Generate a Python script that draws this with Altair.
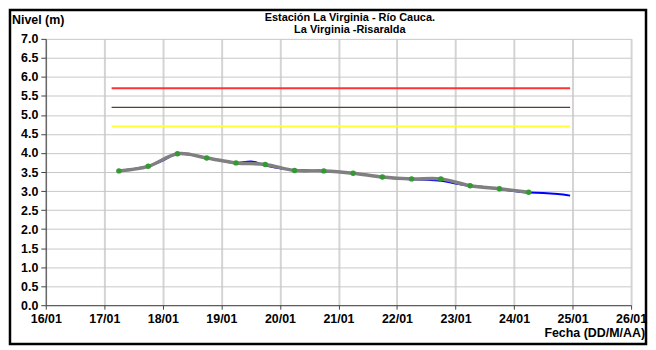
import altair as alt
import pandas as pd

# Green markers (06:00 and 18:00 readings)
pt_times = ["2020-01-17T06:00:00Z", "2020-01-17T18:00:00Z", "2020-01-18T06:00:00Z", "2020-01-18T18:00:00Z",
            "2020-01-19T06:00:00Z", "2020-01-19T18:00:00Z", "2020-01-20T06:00:00Z", "2020-01-20T18:00:00Z",
            "2020-01-21T06:00:00Z", "2020-01-21T18:00:00Z", "2020-01-22T06:00:00Z", "2020-01-22T18:00:00Z",
            "2020-01-23T06:00:00Z", "2020-01-23T18:00:00Z", "2020-01-24T06:00:00Z"]
pt_values = [3.53, 3.65, 3.98, 3.87, 3.74, 3.70, 3.54, 3.53, 3.47, 3.37, 3.32, 3.32, 3.14, 3.06, 2.97]

# Blue (continuous record)
bl_times = ["2020-01-17T06:00:00Z", "2020-01-17T12:00:00Z", "2020-01-17T18:00:00Z", "2020-01-18T00:00:00Z",
            "2020-01-18T06:00:00Z", "2020-01-18T12:00:00Z", "2020-01-18T18:00:00Z", "2020-01-19T00:00:00Z",
            "2020-01-19T06:00:00Z", "2020-01-19T12:00:00Z", "2020-01-19T18:00:00Z", "2020-01-20T00:00:00Z",
            "2020-01-20T06:00:00Z", "2020-01-20T12:00:00Z", "2020-01-20T18:00:00Z", "2020-01-21T00:00:00Z",
            "2020-01-21T06:00:00Z", "2020-01-21T12:00:00Z", "2020-01-21T18:00:00Z", "2020-01-22T00:00:00Z",
            "2020-01-22T06:00:00Z", "2020-01-22T12:00:00Z", "2020-01-22T18:00:00Z", "2020-01-23T00:00:00Z",
            "2020-01-23T06:00:00Z", "2020-01-23T12:00:00Z", "2020-01-23T18:00:00Z", "2020-01-24T00:00:00Z",
            "2020-01-24T06:00:00Z", "2020-01-24T12:00:00Z", "2020-01-24T18:00:00Z", "2020-01-24T23:00:00Z"]
bl_values = [3.53, 3.58, 3.65, 3.80, 3.98, 3.95, 3.87, 3.80, 3.74, 3.78, 3.67, 3.60, 3.55, 3.54, 3.52, 3.50,
             3.47, 3.42, 3.36, 3.33, 3.31, 3.30, 3.27, 3.20, 3.14, 3.10, 3.05, 3.00, 2.96, 2.95, 2.92, 2.88]

# Alert thresholds
th_levels = [5.7, 5.2, 4.7]
th_colors = ["#ff3333", "#5a4030", "#ffff33"]
th_widths = [2, 1.3, 2]
th_start = "2020-01-17T03:00:00Z"
th_end = "2020-01-24T23:00:00Z"

title_lines = ["Estación La Virginia  - Río Cauca.", "La Virginia -Risaralda"]
y_title = "Nivel (m)"
x_title = "Fecha (DD/M/AA)"

FONT = "Arial"
W, H = 589, 268

pts = pd.DataFrame({"t": pt_times, "v": pt_values})
blue = pd.DataFrame({"t": bl_times, "v": bl_values})
th = pd.DataFrame({"t": [th_start] * 3, "t2": [th_end] * 3, "v": th_levels, "c": th_colors, "w": th_widths})

xscale = alt.Scale(type="utc", domain=["2020-01-16T00:00:00Z", "2020-01-26T00:00:00Z"], nice=False)
yscale = alt.Scale(domain=[0, 7], nice=False)
tick_vals = [alt.DateTime(year=2020, month=1, date=d, utc=True) for d in range(16, 27)]

xax = alt.Axis(values=tick_vals, format="%d/%m", title=None, grid=True, gridColor="#d4d4d4", gridWidth=2,
               labelFont=FONT, labelFontSize=12.5, labelFontWeight="bold", labelColor="black",
               domainColor="#444444", tickColor="#444444", tickSize=4, labelPadding=3, labelFlush=False)
yax = alt.Axis(values=[i * 0.5 for i in range(15)], format=".1f", title=None, grid=True, gridColor="#c8c8c8",
               gridWidth=1, labelFont=FONT, labelFontSize=12.5, labelFontWeight="bold", labelColor="black",
               domainColor="#444444", tickColor="#444444", tickSize=5, labelPadding=3)

base_x = alt.X("t:T", scale=xscale, axis=xax)
base_y = alt.Y("v:Q", scale=yscale, axis=yax)

rules = alt.Chart(th).mark_rule().encode(
    x=alt.X("t:T", scale=xscale, axis=xax), x2="t2:T", y=alt.Y("v:Q", scale=yscale, axis=yax),
    color=alt.Color("c:N", scale=None), strokeWidth=alt.StrokeWidth("w:Q", scale=None))

blue_line = alt.Chart(blue).mark_line(color="#0000ff", strokeWidth=2, interpolate="monotone").encode(
    x=base_x, y=base_y)
gray_line = alt.Chart(pts).mark_line(color="#808080", strokeWidth=3.5, interpolate="cardinal").encode(
    x=base_x, y=base_y)
dots = alt.Chart(pts).mark_circle(color="#339933", size=30, opacity=1).encode(x=base_x, y=base_y)

title_df = pd.DataFrame({"txt": title_lines, "yy": [-21, -9]})
title = alt.Chart(title_df).mark_text(font=FONT, fontSize=11, fontWeight="bold", color="black",
                                      align="center", baseline="middle").encode(
    x=alt.value(306), y=alt.Y("yy:Q", scale=None), text="txt:N")

ytitle = alt.Chart(pd.DataFrame({"txt": [y_title]})).mark_text(
    font=FONT, fontSize=12.5, fontWeight="bold", color="black", align="left", baseline="middle").encode(
    x=alt.value(-34), y=alt.value(-19), text="txt:N")
xtitle = alt.Chart(pd.DataFrame({"txt": [x_title]})).mark_text(
    font=FONT, fontSize=12.5, fontWeight="bold", color="black", align="right", baseline="middle").encode(
    x=alt.value(603), y=alt.value(296), text="txt:N")

border = alt.Chart(pd.DataFrame({"a": [0]})).mark_rect(fill=None, stroke="black", strokeWidth=2.5).encode(
    x=alt.value(-36), x2=alt.value(604), y=alt.value(-29), y2=alt.value(307))

chart = alt.layer(rules, blue_line, gray_line, dots, title, ytitle, xtitle, border).properties(
    width=W, height=H,
    autosize=alt.AutoSizeParams(type="none"),
    padding={"left": 38, "top": 30, "right": 17, "bottom": 40},
    background="white",
).configure_view(stroke=None)

chart.save("out.html", embed_options={"renderer": "svg", "actions": False})
